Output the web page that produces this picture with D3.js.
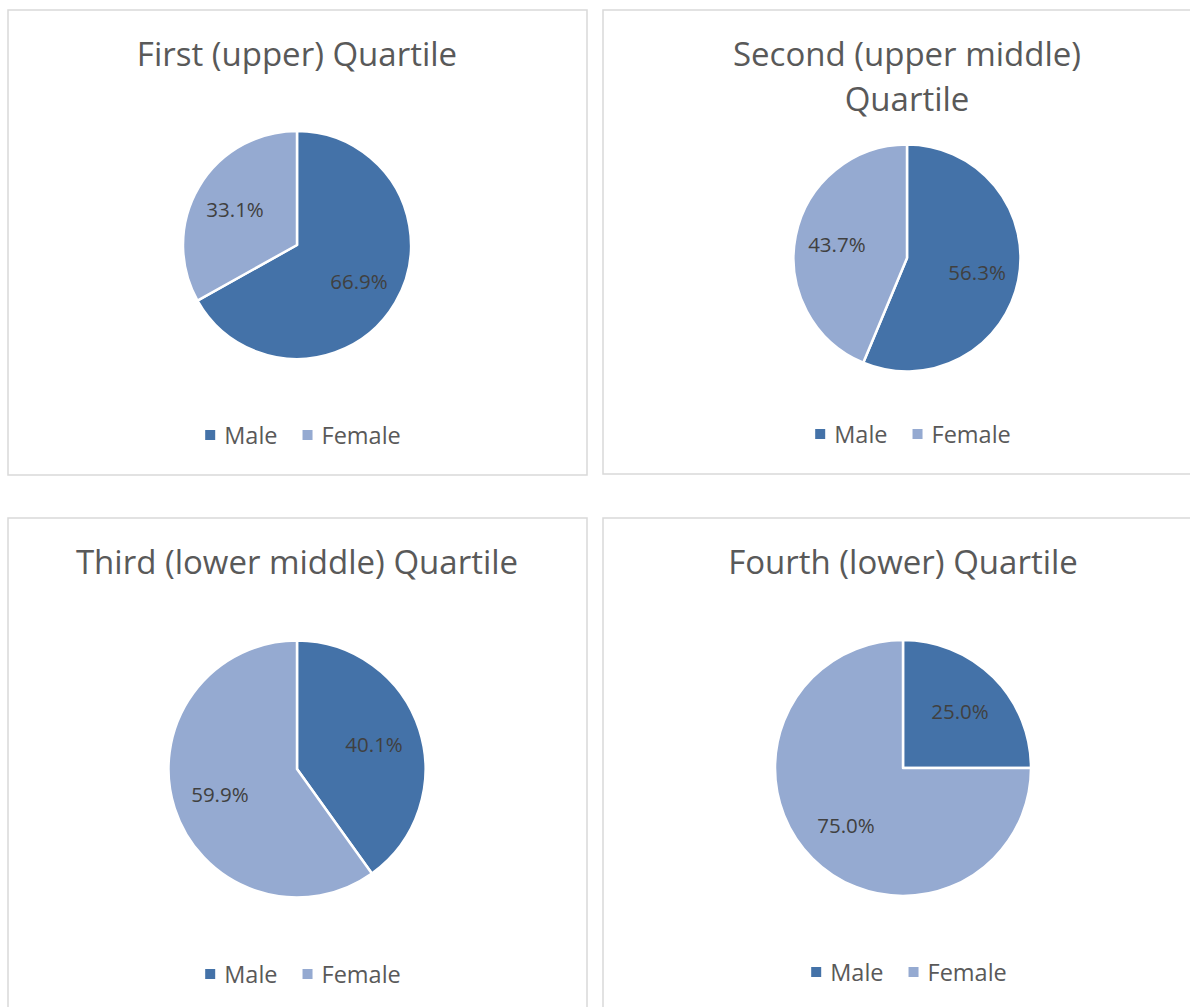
<!DOCTYPE html>
<html>
<head>
<meta charset="utf-8">
<script src="https://cdn.jsdelivr.net/npm/d3@7"></script>
<style>
  html, body { margin: 0; padding: 0; background: #fff; }
  svg { display: block; }
</style>
</head>
<body>
<svg id="chart" width="1190" height="1007"></svg>
<script>
// ---- data ----
const categories = ["Male", "Female"];
const titles = [
  ["First (upper) Quartile"],
  ["Second (upper middle)", "Quartile"],
  ["Third (lower middle) Quartile"],
  ["Fourth (lower) Quartile"]
];
const maleValues = [66.9, 56.3, 40.1, 25.0];
const femaleValues = [33.1, 43.7, 59.9, 75.0];
const colors = ["#4472A8", "#95AAD1"];

// ---- layout ----
const panels = [
  { x: 8,   y: 10,  w: 579, h: 465, cx: 297, cy: 245, r: 114, titleY: 66,  legendY: 435 },
  { x: 603, y: 10,  w: 600, h: 464, cx: 907, cy: 258, r: 113.5, titleY: 66, legendY: 434 },
  { x: 8,   y: 518, w: 579, h: 500, cx: 297, cy: 769, r: 128.5, titleY: 574, legendY: 974 },
  { x: 603, y: 518, w: 600, h: 500, cx: 903, cy: 768, r: 128, titleY: 574, legendY: 972 }
];

const svg = d3.select("#chart");
const font = "'Open Sans', 'Noto Sans', sans-serif";
const color = d3.scaleOrdinal().domain(categories).range(colors);
const pie = d3.pie().sort(null).value(d => d.value);

panels.forEach((p, i) => {
  const g = svg.append("g");
  g.append("rect")
    .attr("x", p.x).attr("y", p.y).attr("width", p.w).attr("height", p.h)
    .attr("fill", "#fff").attr("stroke", "#D9D9D9").attr("stroke-width", 1.5);

  // title
  const t = g.append("text")
    .attr("x", p.cx).attr("y", p.titleY)
    .attr("text-anchor", "middle")
    .attr("font-family", font).attr("font-size", 33)
    .attr("fill", "#595959");
  titles[i].forEach((line, j) => {
    t.append("tspan").attr("x", p.cx).attr("dy", j === 0 ? 0 : 45).text(line);
  });

  const data = [
    { cat: categories[0], value: maleValues[i] },
    { cat: categories[1], value: femaleValues[i] }
  ];
  const arcs = pie(data);
  const arc = d3.arc().innerRadius(0).outerRadius(p.r);
  const labelArc = d3.arc().innerRadius(p.r * 0.63).outerRadius(p.r * 0.63);

  const pg = g.append("g").attr("transform", `translate(${p.cx},${p.cy})`);
  pg.selectAll("path").data(arcs).join("path")
    .attr("d", arc)
    .attr("fill", d => color(d.data.cat))
    .attr("stroke", "#fff").attr("stroke-width", 2.5)
    .attr("stroke-linejoin", "round");

  pg.selectAll("text").data(arcs).join("text")
    .attr("transform", d => `translate(${labelArc.centroid(d)})`)
    .attr("text-anchor", "middle")
    .attr("dominant-baseline", "central")
    .attr("font-family", font).attr("font-size", 20.5)
    .attr("fill", "#404040")
    .text(d => d.data.value.toFixed(1) + "%");

  // legend
  const lg = g.append("g");
  const items = lg.selectAll("g").data(categories).join("g");
  items.append("rect").attr("width", 10).attr("height", 10)
    .attr("y", -5).attr("fill", d => color(d));
  items.append("text").attr("x", 19).attr("dominant-baseline", "central")
    .attr("font-family", font).attr("font-size", 23.5).attr("fill", "#595959")
    .text(d => d);
  let xoff = 0;
  items.each(function () {
    d3.select(this).attr("transform", `translate(${xoff},0)`);
    xoff += this.getBBox().width + 25;
  });
  const total = xoff - 25;
  lg.attr("transform", `translate(${p.cx + 6 - total / 2},${p.legendY})`);
});
</script>
</body>
</html>
